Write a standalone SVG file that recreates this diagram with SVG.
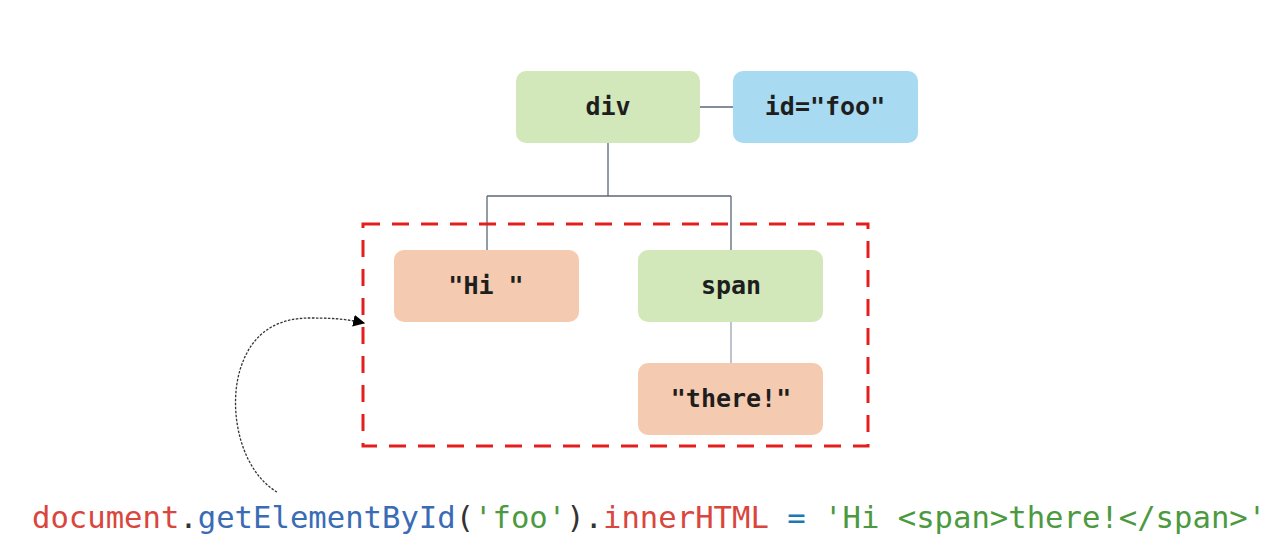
<svg xmlns="http://www.w3.org/2000/svg" width="1276" height="558" viewBox="0 0 1276 558">
<style>
.box{stroke:none}
.g{fill:#d2e8bb}
.b{fill:#a8daf1}
.o{fill:#f4cbb0}
.lbl{font-family:"DejaVu Sans Mono",monospace;font-weight:bold;font-size:25px;fill:#1e1e1e;text-anchor:middle;dominant-baseline:central}
.ln{stroke:#5a6878;stroke-width:1.3;fill:none}
.code{font-family:"DejaVu Sans Mono","Liberation Mono",monospace;font-size:30.6px}
</style>
<defs>
<marker id="ah" viewBox="0 0 10 10" refX="9" refY="5" markerWidth="12" markerHeight="12" markerUnits="userSpaceOnUse" orient="auto">
<path d="M0,0 L10,5 L0,10 z" fill="#000"/>
</marker>
</defs>
<rect width="1276" height="558" fill="#fff"/>
<g id="connectors">
<path class="ln" d="M700,107 H733"/>
<path class="ln" d="M608,143 V196 M487,196 H731 M487,196 V250 M731,196 V250"/>
<path class="ln" style="stroke:#9aa4ae" d="M731,322 V363"/>
<path d="M277,492 C240,470 228,410 240,370 C252,330 280,318 310,318 C340,318 350,320 364,323" fill="none" stroke="#333" stroke-width="1.3" stroke-dasharray="2.5,1.5" marker-end="url(#ah)"/>
</g>
<g id="selection">
<rect x="363" y="224" width="505" height="222" fill="none" stroke="#e41e1e" stroke-width="3" stroke-dasharray="17,12"/>
</g>
<g id="div"><rect class="box g" x="516" y="71" width="184" height="72" rx="10"/><text class="lbl" x="608" y="106">div</text></g>
<g id="idfoo"><rect class="box b" x="733" y="71" width="185" height="72" rx="10"/><text class="lbl" x="825" y="106">id="foo"</text></g>
<g id="hi"><rect class="box o" x="394" y="250" width="185" height="72" rx="10"/><text class="lbl" x="486" y="285">"Hi "</text></g>
<g id="span"><rect class="box g" x="638" y="250" width="185" height="72" rx="10"/><text class="lbl" x="731" y="285">span</text></g>
<g id="there"><rect class="box o" x="638" y="363" width="185" height="72" rx="10"/><text class="lbl" x="731" y="398">"there!"</text></g>
<g id="code">
<text class="code" x="32" y="528" xml:space="preserve"><tspan fill="#d9463e">document</tspan><tspan fill="#333">.</tspan><tspan fill="#3a6cb6">getElementById</tspan><tspan fill="#333">(</tspan><tspan fill="#4c9a40">'foo'</tspan><tspan fill="#333">).</tspan><tspan fill="#d9463e">innerHTML</tspan> <tspan fill="#1b78b4">=</tspan> <tspan fill="#4c9a40">'Hi &lt;span&gt;there!&lt;/span&gt;'</tspan></text>
</g>
</svg>
